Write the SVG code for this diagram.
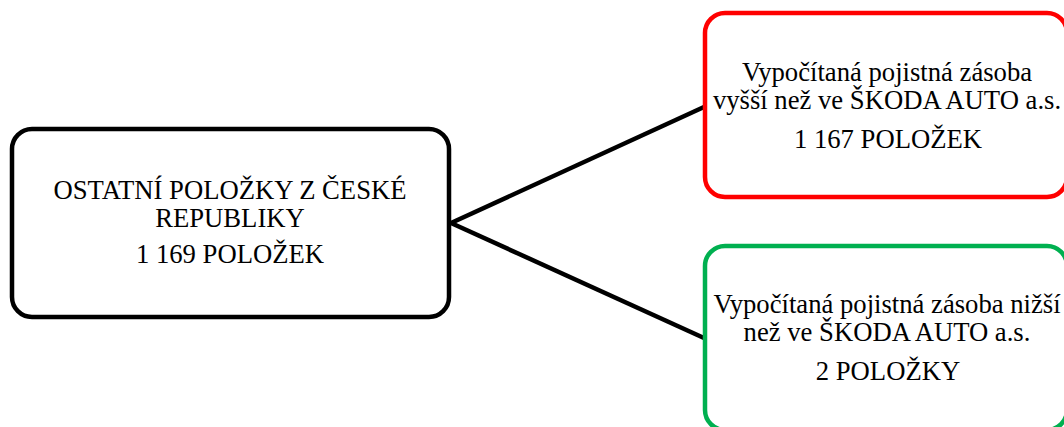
<svg xmlns="http://www.w3.org/2000/svg" width="1064" height="427" viewBox="0 0 1064 427">
  <style>
    .box { fill: #ffffff; stroke-width: 4.5; }
    .src { stroke: #000000; }
    .hi { stroke: #ff0000; }
    .lo { stroke: #00b050; }
    .lbl { font-family: "Liberation Serif", "Times New Roman", serif; font-size: 26.67px; fill: #000000; text-anchor: middle; }
    .conn { stroke: #000000; stroke-width: 4.5; fill: none; }
  </style>
  <rect width="1064" height="427" fill="#ffffff"/>

  <g id="connectors">
    <line class="conn" x1="451" y1="223" x2="704" y2="107"/>
    <line class="conn" x1="451" y1="223" x2="704" y2="338"/>
  </g>

  <g id="node-ostatni">
    <rect class="box src" x="12" y="129" width="437" height="188" rx="20" ry="20"/>
    <text class="lbl" x="230" y="199">OSTATNÍ POLOŽKY Z ČESKÉ</text>
    <text class="lbl" x="230" y="227">REPUBLIKY</text>
    <text class="lbl" x="230" y="263">1 169 POLOŽEK</text>
  </g>

  <g id="node-vyssi">
    <rect class="box hi" x="705" y="13" width="362" height="184" rx="20" ry="20"/>
    <text class="lbl" x="887" y="81">Vypočítaná pojistná zásoba</text>
    <text class="lbl" x="887" y="109">vyšší než ve ŠKODA AUTO a.s.</text>
    <text class="lbl" x="888" y="148">1 167 POLOŽEK</text>
  </g>

  <g id="node-nizsi">
    <rect class="box lo" x="705" y="246" width="362" height="184" rx="20" ry="20"/>
    <text class="lbl" x="887" y="313">Vypočítaná pojistná zásoba nižší</text>
    <text class="lbl" x="887" y="341">než ve ŠKODA AUTO a.s.</text>
    <text class="lbl" x="888" y="380">2 POLOŽKY</text>
  </g>
</svg>
